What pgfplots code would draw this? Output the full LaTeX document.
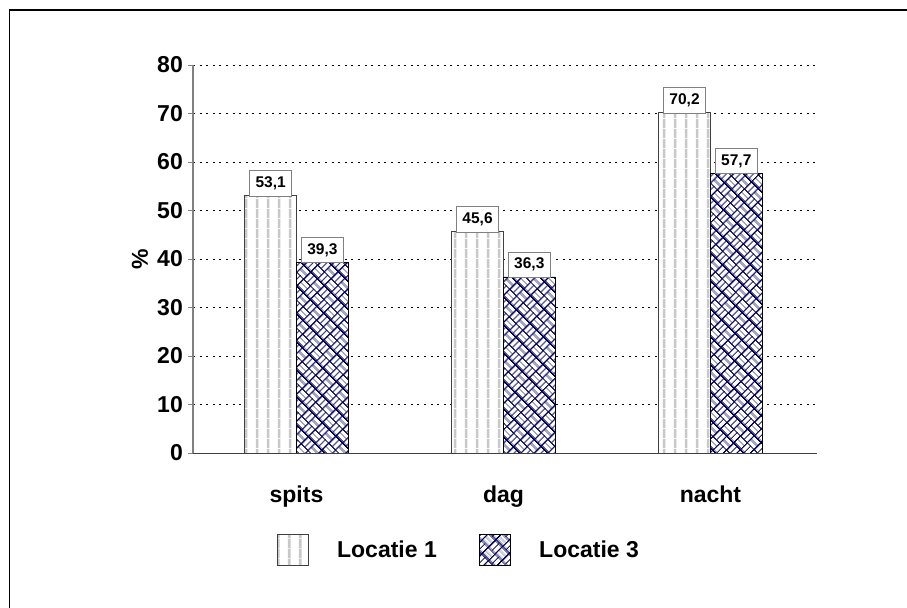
\documentclass[border=0pt]{standalone}
\usepackage{fontspec}
\setmainfont{Liberation Sans}
\usepackage{pgfplots}
\pgfplotsset{compat=1.18}
\usetikzlibrary{patterns.meta}

\definecolor{weavenavy}{RGB}{0,0,88}
\definecolor{stripegray}{RGB}{200,200,200}

% thin vertical stripes for Locatie 1
\tikzdeclarepattern{
  name=vstripes, type=uncolored,
  bounding box={(0bp,0bp) and (10.5bp,10bp)},
  tile size={(10.5bp,10bp)},
  code={\pgfpathrectangle{\pgfpoint{4bp}{0bp}}{\pgfpoint{2.8bp}{10bp}}\pgfusepath{fill}}
}

% diagonal basket weave for Locatie 3
\tikzdeclarepattern{
  name=weave, type=uncolored,
  bounding box={(0bp,0bp) and (20bp,20bp)},
  tile size={(20bp,20bp)},
  tile transformation={rotate=45},
  code={
    \pgfpathrectangle{\pgfpoint{0.6bp}{0.8bp}}{\pgfpoint{8.8bp}{3.7bp}}
    \pgfpathrectangle{\pgfpoint{0.6bp}{5.5bp}}{\pgfpoint{8.8bp}{3.7bp}}
    \pgfpathrectangle{\pgfpoint{10.6bp}{10.8bp}}{\pgfpoint{8.8bp}{3.7bp}}
    \pgfpathrectangle{\pgfpoint{10.6bp}{15.5bp}}{\pgfpoint{8.8bp}{3.7bp}}
    \pgfpathrectangle{\pgfpoint{10.8bp}{0.6bp}}{\pgfpoint{3.7bp}{8.8bp}}
    \pgfpathrectangle{\pgfpoint{15.5bp}{0.6bp}}{\pgfpoint{3.7bp}{8.8bp}}
    \pgfpathrectangle{\pgfpoint{0.8bp}{10.6bp}}{\pgfpoint{3.7bp}{8.8bp}}
    \pgfpathrectangle{\pgfpoint{5.5bp}{10.6bp}}{\pgfpoint{3.7bp}{8.8bp}}
    \pgfusepath{fill}
  }
}

\pgfplotstableread{
x val
0 53.1
1 45.6
2 70.2
}\locA
\pgfplotstableread{
x val
0 39.3
1 36.3
2 57.7
}\locC

\newcommand\bigfont{\fontsize{23bp}{27bp}\selectfont\bfseries}

\begin{document}
\begin{tikzpicture}
\useasboundingbox (0,0) rectangle (907bp,608bp);
\draw[line width=1.3bp] (9.5bp,0) -- (9.5bp,598bp) -- (907bp,598bp);
\begin{axis}[
  at={(193bp,155bp)}, anchor=south west,
  scale only axis, width=624bp, height=388bp,
  xmin=-0.5, xmax=2.515, ymin=0, ymax=80,
  axis x line*=bottom, axis y line*=left,
  axis line style={-},
  x axis line style={draw=black!75, line width=0.9bp},
  y axis line style={draw=gray, line width=1.2bp},
  xtick={0,1,2}, xticklabels={spits,dag,nacht},
  ytick={0,10,...,80},
  tick align=outside, major tick length=5bp,
  xtick style={draw=none},
  ytick style={draw=gray, line width=0.9bp},
  ymajorgrids,
  grid style={black, line width=0.8bp, dash pattern=on 2bp off 4.6bp},
  /pgf/number format/assume math mode=true,
  tick label style={font=\bigfont},
  yticklabel style={inner xsep=5bp},
  xticklabel style={yshift=-24bp},
  ylabel={\%},
  ylabel style={at={(axis description cs:-0.085,0.5)}, anchor=center, font=\bigfont},
  ybar, bar width=0.25,
  nodes near coords={\pgfmathprintnumber[fixed,fixed zerofill,precision=1,use comma]{\pgfplotspointmeta}},
  every node near coord/.append style={font=\fontsize{15.5bp}{18bp}\selectfont\bfseries,
    draw=gray, fill=white, line width=0.9bp, anchor=south,
    text height=11bp, text depth=2.5bp, inner xsep=6bp, inner ysep=6bp, yshift=-1bp},
  legend columns=2,
  legend style={draw=none, fill=none, at={(0.426,-0.25)}, anchor=center,
    font=\bigfont,
    /tikz/every even column/.append style={column sep=40bp}},
  legend image code/.code={
    \draw[#1] (0bp,-15.5bp) rectangle (31bp,15.5bp);
    \pgfpathmoveto{\pgfpoint{58bp}{0bp}}\pgfusepath{discard}
  },
]
\addplot[bar shift=-0.125, draw=black!75, line width=0.8bp,
  pattern=vstripes, pattern color=stripegray, preaction={fill=white}]
  table[x=x, y=val] {\locA};
\addlegendentry{Locatie 1}
\addplot[bar shift=0.125, draw=black, line width=0.8bp,
  pattern=weave, pattern color=white, preaction={fill=weavenavy}]
  table[x=x, y=val] {\locC};
\addlegendentry{Locatie 3}
\draw[black!75, line width=0.9bp] (axis cs:0,0) -- ++(0bp,-14bp);
\draw[black!75, line width=0.9bp] (axis cs:1,0) -- ++(0bp,-14bp);
\draw[black!75, line width=0.9bp] (axis cs:2,0) -- ++(0bp,-14bp);
\end{axis}
\end{tikzpicture}
\end{document}
